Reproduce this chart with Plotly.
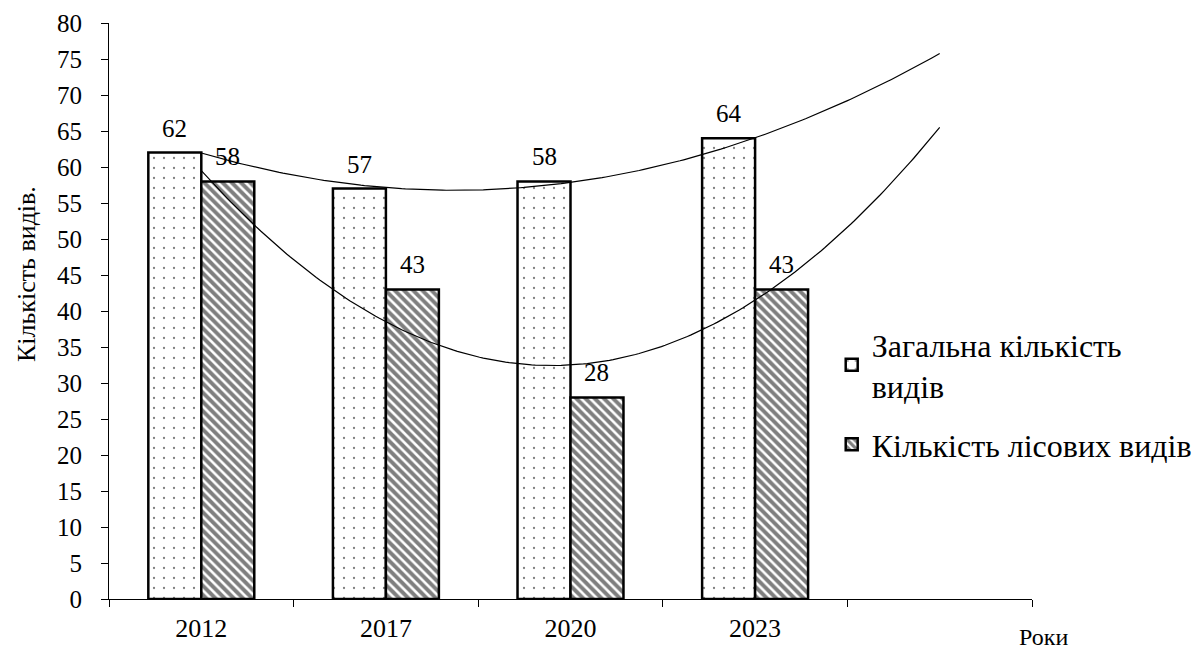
import numpy as np
import plotly.graph_objects as go

# ---- data ----
years = ["2012", "2017", "2020", "2023"]
total_species = [62, 57, 58, 64]
forest_species = [58, 43, 28, 43]
series_names = ["Загальна кількість<br>видів", "Кількість лісових видів"]
y_tick_values = list(range(0, 81, 5))
y_title = "Кількість видів."
x_title = "Роки"

# ---- styling constants ----
FONT = "Liberation Serif"
BAR_W = 0.287
pos = np.arange(len(years))
n_slots = len(years) + 1  # one extra empty slot for trendline forecast

fig = go.Figure()

fig.add_bar(
    x=pos, y=total_species, width=BAR_W, offset=-BAR_W,
    name=series_names[0], legendgroup="g1",
    marker=dict(color="white", line=dict(color="black", width=2.5),
                pattern=dict(shape=".", size=10, solidity=0.04,
                             fgcolor="black", bgcolor="white")),
)
fig.add_bar(
    x=pos, y=forest_species, width=BAR_W, offset=0,
    name=series_names[1], legendgroup="g2",
    marker=dict(color="white", line=dict(color="black", width=2.5),
                pattern=dict(shape="\\", size=6.5, solidity=0.6,
                             fgcolor="black", bgcolor="white")),
)

# polynomial (order 2) trendlines with one-period forecast
for vals in (total_species, forest_species):
    coef = np.polyfit(pos, vals, 2)
    xx = np.linspace(0, len(years), 200)
    fig.add_scatter(x=xx, y=np.polyval(coef, xx), mode="lines",
                    line=dict(color="black", width=1.2),
                    showlegend=False, hoverinfo="skip")

# value labels
annotations = []
for vals, off in ((total_species, -BAR_W / 2), (forest_species, BAR_W / 2)):
    for p, v in zip(pos, vals):
        annotations.append(dict(x=p + off, y=v, xref="x", yref="y", text=str(v),
                                showarrow=False, yanchor="bottom", yshift=9,
                                font=dict(family=FONT, size=25, color="black")))
# axis titles
annotations.append(dict(x=1.012, y=-0.066, xref="paper", yref="paper", text=x_title,
                        showarrow=False, xanchor="center", yanchor="middle",
                        font=dict(family=FONT, size=24, color="black")))
annotations.append(dict(x=-0.09, y=0.564, xref="paper", yref="paper", text=y_title,
                        textangle=-90, showarrow=False,
                        xanchor="center", yanchor="middle",
                        font=dict(family=FONT, size=26, color="black")))

fig.update_layout(
    width=1200, height=652,
    margin=dict(l=109, r=168, t=23, b=53, autoexpand=False),
    paper_bgcolor="white", plot_bgcolor="white",
    font=dict(family=FONT, color="black"),
    barmode="group",
    showlegend=True,
    legend=dict(x=0.783, y=0.49, xanchor="left", yanchor="top",
                traceorder="grouped", tracegroupgap=14,
                font=dict(family=FONT, size=32, color="black"),
                bgcolor="rgba(0,0,0,0)"),
    annotations=annotations,
    xaxis=dict(range=[-0.5, n_slots - 0.5], tickvals=pos, ticktext=years,
               ticks="outside", ticklen=6, tickcolor="rgba(0,0,0,0)",
               automargin=False,
               showline=True, linecolor="black", linewidth=1,
               showgrid=False, zeroline=False,
               tickfont=dict(family=FONT, size=26, color="black"),
               minor=dict(tickvals=np.arange(-0.5, n_slots, 1.0), ticks="outside",
                          ticklen=7, tickcolor="black", tickwidth=1, showgrid=False)),
    yaxis=dict(range=[0, 80], tickvals=y_tick_values,
               ticks="outside", ticklen=7, tickcolor="black",
               ticklabelstandoff=14, automargin=False,
               showline=True, linecolor="black", linewidth=1,
               showgrid=False, zeroline=False,
               tickfont=dict(family=FONT, size=25, color="black")),
)

fig.write_html("out.html")
